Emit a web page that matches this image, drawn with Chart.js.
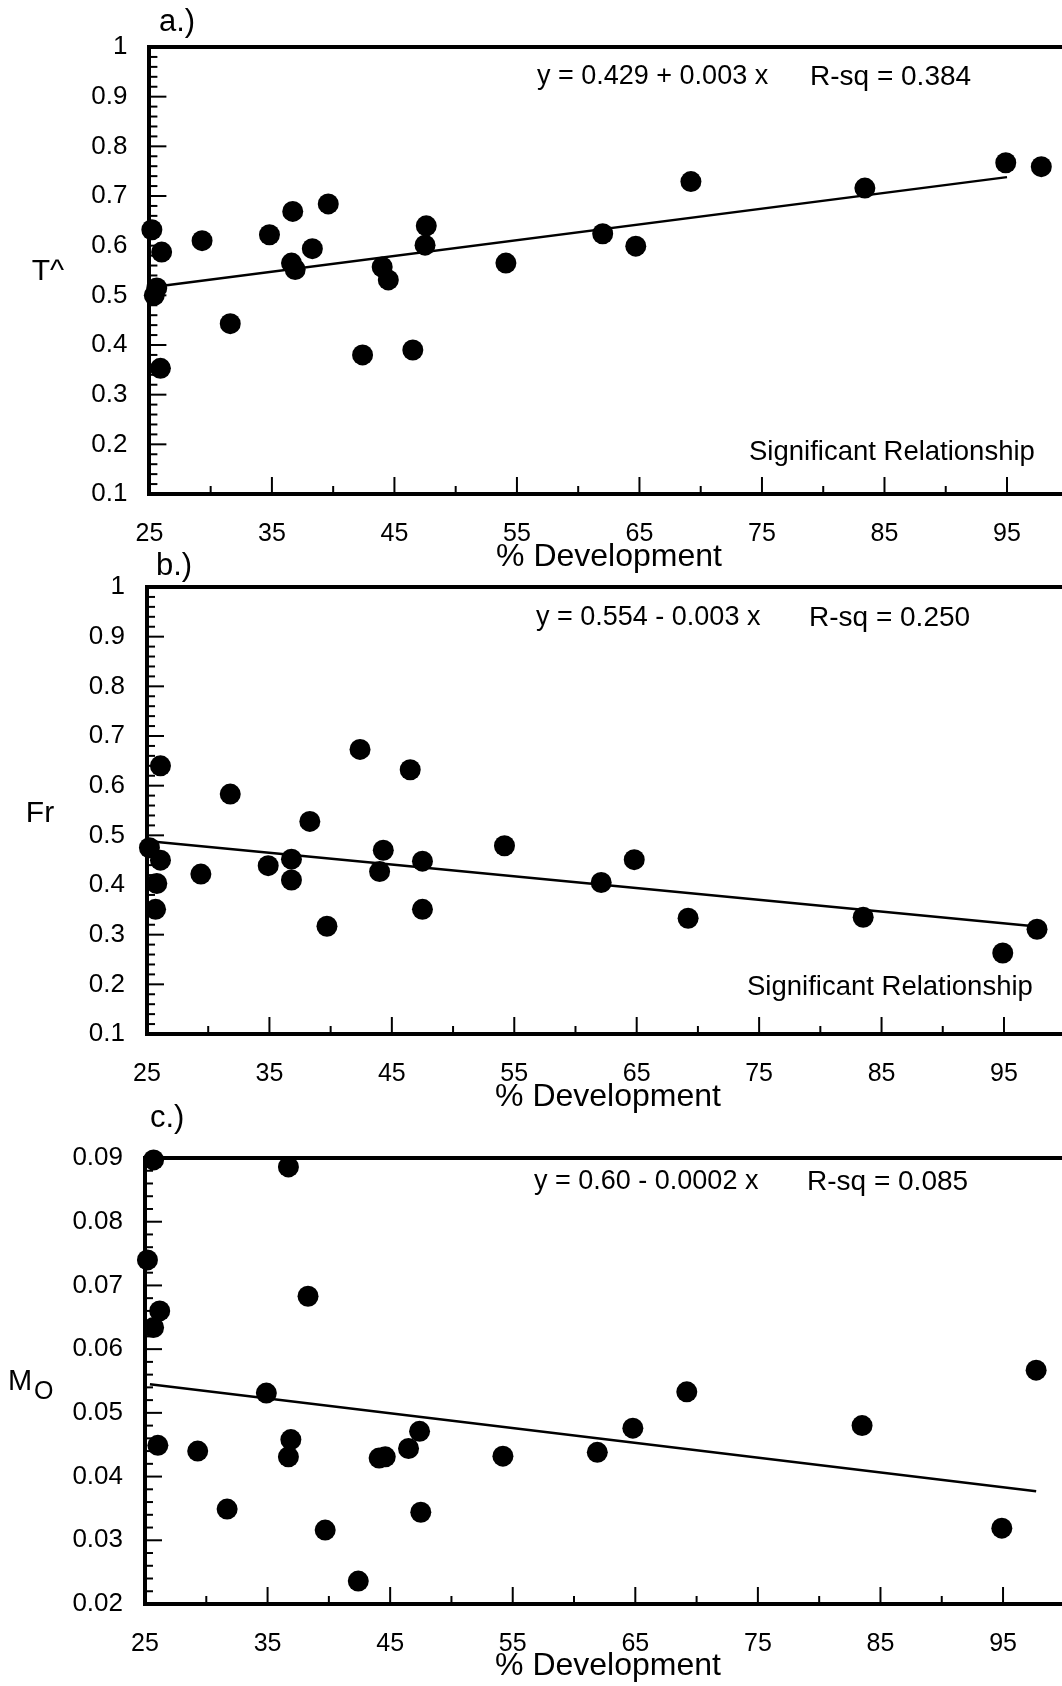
<!DOCTYPE html>
<html>
<head>
<meta charset="utf-8">
<script src="https://cdn.jsdelivr.net/npm/chart.js@4.4.0/dist/chart.umd.min.js"></script>
<style>
  html, body { margin: 0; padding: 0; background: #fff; overflow: hidden; }
  body { width: 1062px; height: 1686px; position: relative; }
  canvas { position: absolute; left: 0; }
</style>
</head>
<body>
<canvas id="chartA" width="1062" height="585" style="top:0px"></canvas>
<canvas id="chartB" width="1062" height="585" style="top:545px"></canvas>
<canvas id="chartC" width="1062" height="591" style="top:1095px"></canvas>
<script>
// values
const devA = [25.2, 25.4, 25.6, 26.0, 25.9, 29.3, 31.6, 34.8, 36.6, 36.9, 36.7, 38.3, 39.6,
  42.4, 44.0, 44.5, 46.5, 47.6, 47.5, 54.1, 62.0, 64.7, 69.2, 83.4, 94.9, 97.8];
const tHat = [0.632, 0.500, 0.515, 0.587, 0.353, 0.610, 0.443, 0.622, 0.565, 0.552, 0.669, 0.594, 0.684,
  0.380, 0.557, 0.531, 0.390, 0.640, 0.601, 0.565, 0.624, 0.599, 0.729, 0.716, 0.767, 0.759];

const devB = [25.2, 26.1, 25.8, 25.7, 26.1, 29.4, 31.8, 34.9, 36.8, 36.8, 38.3, 39.7, 42.4,
  44.3, 44.0, 46.5, 47.5, 47.5, 54.2, 62.1, 64.8, 69.2, 83.5, 94.9, 97.7];
const fr = [0.475, 0.450, 0.403, 0.351, 0.640, 0.422, 0.583, 0.439, 0.452, 0.410, 0.528, 0.317, 0.673,
  0.470, 0.427, 0.632, 0.448, 0.351, 0.479, 0.405, 0.451, 0.333, 0.335, 0.263, 0.311];

const devC = [25.7, 36.7, 25.2, 26.2, 25.7, 26.05, 38.3, 34.9, 29.3, 31.7, 36.9, 36.7, 39.7,
  42.4, 44.1, 44.6, 46.5, 47.4, 47.5, 54.2, 61.9, 64.8, 69.2, 83.5, 94.9, 97.7];
const mo = [0.0897, 0.0886, 0.0740, 0.0660, 0.0634, 0.0449, 0.0683, 0.0531, 0.0440, 0.0349, 0.0458, 0.0431, 0.0316,
  0.0236, 0.0429, 0.0431, 0.0444, 0.0471, 0.0344, 0.0432, 0.0438, 0.0476, 0.0533, 0.0480, 0.0319, 0.0567];

// regression lines as drawn (end points)
const fitAX = [25.3, 95.0], fitAY = [0.517, 0.738];
const fitBX = [25.2, 97.9], fitBY = [0.488, 0.316];
const fitCX = [25.4, 97.7], fitCY = [0.0545, 0.0377];

const xTicks = [25, 35, 45, 55, 65, 75, 85, 95];
const yTicksAB = [0.1, 0.2, 0.3, 0.4, 0.5, 0.6, 0.7, 0.8, 0.9, 1];
const yLabelsAB = ["0.1", "0.2", "0.3", "0.4", "0.5", "0.6", "0.7", "0.8", "0.9", "1"];
const yTicksC = [0.02, 0.03, 0.04, 0.05, 0.06, 0.07, 0.08, 0.09];
const yLabelsC = ["0.02", "0.03", "0.04", "0.05", "0.06", "0.07", "0.08", "0.09"];

const FONT = "'Liberation Sans', Arial, Helvetica, sans-serif";

// top frame line, inward tick marks and the free text of each panel
const panelDecor = {
  id: "panelDecor",
  afterDraw(chart, args, o) {
    const ctx = chart.ctx;
    const area = chart.chartArea;
    const xs = chart.scales.x;
    const ys = chart.scales.y;
    ctx.save();
    ctx.strokeStyle = "#000";
    ctx.lineWidth = 4;
    ctx.beginPath();
    ctx.moveTo(area.left - 2, area.top);
    ctx.lineTo(area.right, area.top);
    ctx.stroke();

    ctx.lineWidth = 2;
    const n = Math.round((ys.max - ys.min) / o.minorStep);
    for (let i = 0; i <= n; i++) {
      const y = ys.getPixelForValue(ys.min + i * o.minorStep);
      const len = i % 5 === 0 ? 17 : 8;
      ctx.beginPath();
      ctx.moveTo(area.left, y);
      ctx.lineTo(area.left + len, y);
      ctx.stroke();
    }
    for (let v = 30; v <= 95; v += 5) {
      const x = xs.getPixelForValue(v);
      const len = (v - 25) % 10 === 0 ? 15 : 6;
      ctx.beginPath();
      ctx.moveTo(x, area.bottom - 2);
      ctx.lineTo(x, area.bottom - 2 - len);
      ctx.stroke();
    }

    ctx.fillStyle = "#000";
    ctx.textBaseline = "middle";
    o.texts.forEach((t) => {
      ctx.font = t.size + "px " + FONT;
      ctx.textAlign = t.align || "left";
      ctx.fillText(t.text, t.x, t.y - o.top);
    });
    ctx.restore();
  },
};

function makePanel(id, p) {
  new Chart(document.getElementById(id), {
    type: "scatter",
    data: {
      datasets: [
        {
          data: p.xs.map((x, i) => ({ x: x, y: p.ys[i] })),
          pointRadius: 10.5,
          pointHoverRadius: 10.5,
          backgroundColor: "#000",
          borderWidth: 0,
          clip: false,
        },
        {
          data: p.fitX.map((x, i) => ({ x: x, y: p.fitY[i] })),
          showLine: true,
          borderColor: "#000",
          borderWidth: 2.5,
          pointRadius: 0,
          fill: false,
          clip: false,
        },
      ],
    },
    options: {
      responsive: false,
      animation: false,
      layout: {
        autoPadding: false,
        padding: { top: p.plotTop - p.top, left: 0, right: 0, bottom: 0 },
      },
      plugins: {
        legend: { display: false },
        tooltip: { enabled: false },
        panelDecor: { top: p.top, minorStep: p.minorStep, texts: p.texts },
      },
      scales: {
        x: {
          type: "linear",
          min: 25,
          max: p.xMax,
          afterBuildTicks: (s) => { s.ticks = xTicks.map((v) => ({ value: v })); },
          afterFit: (s) => {
            s.height = p.top + p.height - p.plotBottom;
            s.paddingLeft = 0;
            s.paddingRight = 0;
          },
          grid: { display: false, drawTicks: false },
          border: { display: true, width: 4, color: "#000" },
          ticks: {
            font: { family: FONT, size: 25 },
            color: "#000",
            padding: 25,
            maxRotation: 0,
            autoSkip: false,
          },
        },
        y: {
          type: "linear",
          min: p.yTicks[0],
          max: p.yTicks[p.yTicks.length - 1],
          afterBuildTicks: (s) => { s.ticks = p.yTicks.map((v) => ({ value: v })); },
          afterFit: (s) => {
            s.width = p.plotLeft;
            s.paddingTop = 0;
            s.paddingBottom = 0;
          },
          grid: { display: false, drawTicks: false },
          border: { display: true, width: 4, color: "#000" },
          ticks: {
            font: { family: FONT, size: 26 },
            color: "#000",
            padding: 22,
            autoSkip: false,
            callback: (v, i) => p.yLabels[i],
          },
        },
      },
    },
    plugins: [panelDecor],
  });
}

makePanel("chartA", {
  top: 0, height: 585, plotTop: 47, plotBottom: 494, plotLeft: 149.4, xMax: 99.49,
  xs: devA, ys: tHat, fitX: fitAX, fitY: fitAY,
  yTicks: yTicksAB, yLabels: yLabelsAB, minorStep: 0.02,
  texts: [
    { text: "a.)", x: 159, y: 22, size: 31 },
    { text: "y = 0.429 + 0.003 x", x: 537, y: 77, size: 27 },
    { text: "R-sq = 0.384", x: 810, y: 77, size: 28 },
    { text: "Significant Relationship", x: 749, y: 452, size: 27.5 },
    { text: "T^", x: 48, y: 272, size: 30, align: "center" },
    { text: "% Development", x: 609, y: 557, size: 32, align: "center" },
  ],
});

makePanel("chartB", {
  top: 545, height: 585, plotTop: 587, plotBottom: 1034, plotLeft: 147, xMax: 99.74,
  xs: devB, ys: fr, fitX: fitBX, fitY: fitBY,
  yTicks: yTicksAB, yLabels: yLabelsAB, minorStep: 0.02,
  texts: [
    { text: "b.)", x: 156, y: 566, size: 31 },
    { text: "y = 0.554 - 0.003 x", x: 536, y: 618, size: 27 },
    { text: "R-sq = 0.250", x: 809, y: 618, size: 28 },
    { text: "Significant Relationship", x: 747, y: 987, size: 27.5 },
    { text: "Fr", x: 40, y: 814, size: 30, align: "center" },
    { text: "% Development", x: 608, y: 1097, size: 32, align: "center" },
  ],
});

makePanel("chartC", {
  top: 1095, height: 591, plotTop: 1158, plotBottom: 1604, plotLeft: 145, xMax: 99.81,
  xs: devC, ys: mo, fitX: fitCX, fitY: fitCY,
  yTicks: yTicksC, yLabels: yLabelsC, minorStep: 0.002,
  texts: [
    { text: "c.)", x: 150, y: 1118, size: 31 },
    { text: "y = 0.60 - 0.0002 x", x: 534, y: 1182, size: 27 },
    { text: "R-sq = 0.085", x: 807, y: 1182, size: 28 },
    { text: "M", x: 8, y: 1382, size: 29 },
    { text: "O", x: 34, y: 1392, size: 25 },
    { text: "% Development", x: 608, y: 1666, size: 32, align: "center" },
  ],
});
</script>
</body>
</html>
